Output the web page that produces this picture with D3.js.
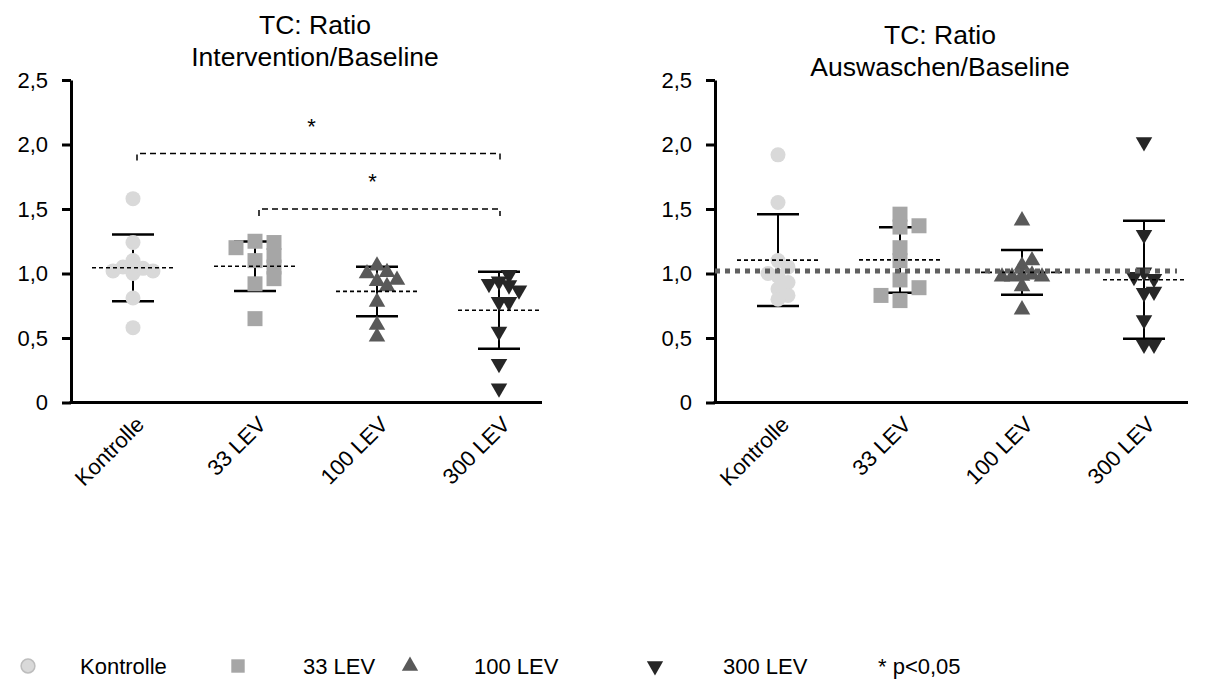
<!DOCTYPE html>
<html>
<head>
<meta charset="utf-8">
<script src="https://cdn.jsdelivr.net/npm/d3@7"></script>
<style>
  body { margin: 0; background: #fff; }
  svg { display: block; }
  text { font-family: "Liberation Sans", Arial, Helvetica, sans-serif; fill: #000; }
</style>
</head>
<body>
<svg id="chart" width="1206" height="687"></svg>
<script>
// Groups and axis ticks
const categories = ["Kontrolle", "33 LEV", "100 LEV", "300 LEV"];
const yTickValues = [0, 0.5, 1, 1.5, 2, 2.5];

// TC ratio Intervention/Baseline, one array per group
const interKontrolle = [1.58, 1.24, 0.81, 0.58, 1.00, 1.04, 1.05, 1.02, 1.02, 1.10];
const inter33 = [1.25, 1.10, 0.92, 0.65, 1.24, 1.20, 1.14, 1.05, 0.96];
const inter100 = [0.51, 0.60, 0.78, 0.94, 1.06, 1.01, 1.00, 0.95, 0.90];
const inter300 = [0.11, 0.30, 0.55, 0.78, 0.94, 0.99, 0.92, 0.91, 0.87, 0.78];

// TC ratio Auswaschen/Baseline, one array per group
const washKontrolle = [1.92, 1.55, 0.98, 1.10, 1.05, 1.00, 0.93, 0.88, 0.83, 0.80];
const wash33 = [1.36, 1.10, 0.95, 0.79, 1.37, 1.46, 1.20, 0.89, 0.83];
const wash100 = [1.41, 1.06, 0.90, 0.72, 1.10, 0.99, 0.975, 0.975, 0.98, 0.975];
const wash300 = [2.02, 1.30, 1.01, 0.85, 0.64, 0.45, 0.45, 0.96, 0.975, 0.86];

// Reference level drawn across the washout panel
const washReference = 1.02;

// Significance brackets in the intervention panel (p<0,05)
const bracketFrom = ["Kontrolle", "33 LEV"];
const bracketTo = ["300 LEV", "300 LEV"];
const bracketLevel = [1.93, 1.50];

const legendLabels = ["Kontrolle", "33 LEV", "100 LEV", "300 LEV"];
const pValueNote = "* p<0,05";

// ---- styling ----
const fills = ["#d9d9d9", "#a6a6a6", "#595959", "#262626"];
const symbolTypes = [d3.symbolCircle, d3.symbolSquare, d3.symbolTriangle, d3.symbolTriangle];
const symbolSizes = [177, 225, 118, 118];
const flipped = [false, false, false, true];
const spreadStep = [10, 19, 10, 10];

const svg = d3.select("#chart");
svg.append("rect").attr("width", 1206).attr("height", 687).attr("fill", "#fff");

const commaFormat = d => d === 0 ? "0" : d3.format(".1f")(d).replace(".", ",");

// Horizontal spreading of points that would overlap
function dodge(values, y, step) {
  const placed = [];
  const steps = [0, 1, -1, 2, -2, 3, -3, 4, -4];
  return values.map(v => {
    const py = y(v);
    for (const s of steps) {
      const px = s * step;
      if (placed.every(p => Math.hypot(p[0] - px, p[1] - py) >= 10)) {
        placed.push([px, py]);
        return px;
      }
    }
    return 0;
  });
}

function drawPanel(cfg) {
  const g = svg.append("g");
  const y = d3.scaleLinear().domain([0, 2.5]).range([402.5, 80]);
  const x = d3.scalePoint().domain(categories).range([cfg.firstX, cfg.lastX]);

  // title
  const title = g.append("text")
    .attr("text-anchor", "middle")
    .style("font-size", "26.5px");
  cfg.title.forEach((line, i) => {
    title.append("tspan").attr("x", cfg.titleX).attr("y", cfg.titleY + i * 32).text(line);
  });

  // y axis
  const yAxis = g.append("g")
    .attr("transform", `translate(${cfg.axisX},0)`)
    .call(d3.axisLeft(y).tickValues(yTickValues).tickSize(9).tickSizeOuter(0)
      .tickPadding(14).tickFormat(commaFormat));
  yAxis.select(".domain").attr("stroke", "#000").attr("stroke-width", 3);
  yAxis.selectAll(".tick line").attr("stroke", "#000").attr("stroke-width", 3);
  yAxis.selectAll(".tick text").style("font-size", "22px")
    .style("font-family", "'Liberation Sans', Arial, sans-serif").attr("fill", "#000");

  // x axis line and rotated category labels
  g.append("line")
    .attr("x1", cfg.axisX - 1.5).attr("x2", cfg.axisEnd)
    .attr("y1", y(0)).attr("y2", y(0))
    .attr("stroke", "#000").attr("stroke-width", 3);
  g.selectAll("text.xlab").data(categories).join("text")
    .attr("class", "xlab")
    .attr("text-anchor", "end")
    .attr("transform", d => `translate(${x(d) + 7},${y(0) + 18}) rotate(-45)`)
    .attr("dy", "0.35em")
    .style("font-size", "22px")
    .text(d => d);

  // error bars (mean ± SD) behind the points
  cfg.groups.forEach((vals, i) => {
    const cx = x(categories[i]);
    const m = d3.mean(vals), sd = d3.deviation(vals);
    const eb = g.append("g").attr("stroke", "#000");
    eb.append("line").attr("x1", cx).attr("x2", cx).attr("y1", y(m + sd)).attr("y2", y(m - sd)).attr("stroke-width", 2);
    [m + sd, m - sd].forEach(v => {
      eb.append("line").attr("x1", cx - 21).attr("x2", cx + 21).attr("y1", y(v)).attr("y2", y(v)).attr("stroke-width", 2.5);
    });
  });

  // points
  cfg.groups.forEach((vals, i) => {
    const cx = x(categories[i]);
    const offs = dodge(vals, y, spreadStep[i]);
    const sym = d3.symbol().type(symbolTypes[i]).size(symbolSizes[i]);
    g.append("g").selectAll("path").data(vals).join("path")
      .attr("d", sym)
      .attr("fill", fills[i])
      .attr("transform", (d, j) => `translate(${cx + offs[j]},${y(d)})${flipped[i] ? " rotate(180)" : ""}`);
  });

  // dashed mean lines
  cfg.groups.forEach((vals, i) => {
    const cx = x(categories[i]);
    const m = d3.mean(vals);
    g.append("line").attr("x1", cx - 41).attr("x2", cx + 41).attr("y1", y(m)).attr("y2", y(m))
      .attr("stroke", "#000").attr("stroke-width", 1.6).attr("stroke-dasharray", "4,3");
  });

  // reference line
  if (cfg.reference != null) {
    g.append("line")
      .attr("x1", cfg.axisX).attr("x2", x(categories[3]) + 33)
      .attr("y1", y(cfg.reference)).attr("y2", y(cfg.reference))
      .attr("stroke", "#606060").attr("stroke-width", 5).attr("stroke-dasharray", "5,5");
  }

  // significance brackets
  if (cfg.brackets) {
    bracketLevel.forEach((lvl, k) => {
      const x1 = x(bracketFrom[k]) + 4, x2 = x(bracketTo[k]) + 1, yy = y(lvl);
      g.append("path")
        .attr("d", `M${x1},${yy + 7}V${yy}H${x2}V${yy + 7}`)
        .attr("fill", "none").attr("stroke", "#000").attr("stroke-width", 1.5)
        .attr("stroke-dasharray", "6,4");
      g.append("text").attr("x", (x1 + x2) / 2 - 7).attr("y", yy - 20)
        .attr("text-anchor", "middle").style("font-size", "22px").text("*");
    });
  }
}

drawPanel({
  axisX: 71, axisEnd: 542, firstX: 133, lastX: 499,
  title: ["TC: Ratio", "Intervention/Baseline"], titleX: 315, titleY: 34,
  groups: [interKontrolle, inter33, inter100, inter300],
  brackets: true, reference: null
});

drawPanel({
  axisX: 715, axisEnd: 1188, firstX: 778, lastX: 1144,
  title: ["TC: Ratio", "Auswaschen/Baseline"], titleX: 940, titleY: 44,
  groups: [washKontrolle, wash33, wash100, wash300],
  brackets: false, reference: washReference
});

// legend
const legendSymbolX = [28, 238, 410, 655];
const legendTextX = [80, 303, 474, 723];
const legendY = 666;
const legend = svg.append("g");
legendLabels.forEach((lab, i) => {
  const sizes = [150, 180, 115, 115];
  legend.append("path")
    .attr("d", d3.symbol().type(symbolTypes[i]).size(sizes[i]))
    .attr("fill", fills[i])
    .attr("stroke", i === 0 ? "#bdbdbd" : "none").attr("stroke-width", 1.5)
    .attr("transform", `translate(${legendSymbolX[i]},${legendY})${flipped[i] ? " rotate(180)" : ""}`);
  legend.append("text").attr("x", legendTextX[i]).attr("y", legendY + 8)
    .style("font-size", "22px").text(lab);
});
legend.append("text").attr("x", 878).attr("y", legendY + 8).style("font-size", "22px").text(pValueNote);
</script>
</body>
</html>
